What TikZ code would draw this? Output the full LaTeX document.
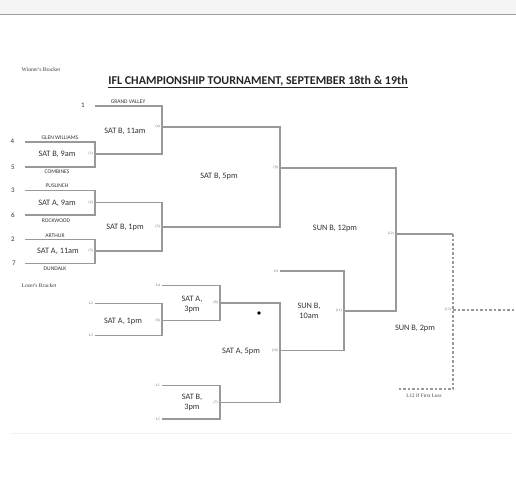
\documentclass[tikz,border=0pt]{standalone}
\usepackage{fontspec}
\setmainfont{Carlito}
\newfontfamily\tnr{Liberation Serif}
\usepackage{tikz}
\usetikzlibrary{calc}

\begin{document}
\begin{tikzpicture}[
            x=1pt, y=-1pt,
            bline/.style={draw=black!40, line width=1.1pt},
            dline/.style={draw=black!40, line width=1.1pt, dashed, dash pattern=on 2.5pt off 2pt},
            seed/.style={text=black!80, font=\fontsize{7}{8}\selectfont, inner sep=0pt},
            team/.style={text=black!80, font=\fontsize{5.6}{6}\selectfont, inner sep=0pt},
            slot/.style={text=black!80, font=\fontsize{8.3}{10}\selectfont, inner sep=0pt, align=center},
            gno/.style={text=black!60, font=\tnr\fontsize{3.6}{4}\selectfont, inner sep=0pt, anchor=east},
            note/.style={text=black!75, font=\tnr\fontsize{5.6}{6}\selectfont, inner sep=0pt},
        ]
            \useasboundingbox (0,0) rectangle (516,492);
            % page strip and frame
            \fill[blue!2!black!4] (0,0) rectangle (516,14.5);
            \draw[black!38, line width=1.4pt] (0,14.5) -- (516,14.5);
            \draw[black!5, line width=0.6pt] (10,433) -- (512,433);

            \node[note] (wb) at (41,70) {Winner's Bracket};
            \node[text=black!85, font=\bfseries\fontsize{12}{14}\selectfont, inner sep=0pt] (title) at (258,82) {\underline{IFL CHAMPIONSHIP TOURNAMENT, SEPTEMBER 18th \& 19th}};
            \node[note] (lb) at (39,285.5) {Loser's Bracket};

            % winner's bracket corners
            \coordinate (s1) at (95,106);
            \coordinate (s4) at (25,142);
            \coordinate (s5) at (25,167);
            \coordinate (s3) at (25,190.5);
            \coordinate (s6) at (25,215);
            \coordinate (s2) at (25,239.5);
            \coordinate (s7) at (25,263.5);
            \coordinate (g1a) at (95,142);
            \coordinate (g1b) at (95,167);
            \coordinate (g1) at (95,154);
            \coordinate (g2a) at (95,190.5);
            \coordinate (g2b) at (95,215);
            \coordinate (g2) at (95,202.5);
            \coordinate (g3a) at (95,239.5);
            \coordinate (g3b) at (95,263.5);
            \coordinate (g3) at (95,251);
            \coordinate (g4a) at (162,106);
            \coordinate (g4) at (162,127);
            \coordinate (g5) at (162,227);
            \coordinate (g9a) at (280,127);
            \coordinate (g9b) at (280,227);
            \coordinate (g9) at (280,168);
            \coordinate (g12a) at (396,168);
            \coordinate (g12) at (396,234);
            \coordinate (g13a) at (453,234);
            \coordinate (g13) at (453,310);
            \coordinate (g13b) at (453,389);
            \coordinate (l12) at (398,389);
            \coordinate (fin) at (516,310);

            % loser's bracket corners
            \coordinate (l2) at (95,303.5);
            \coordinate (l3) at (95,335.5);
            \coordinate (l4) at (162,285.5);
            \coordinate (l1) at (162,385.5);
            \coordinate (l5) at (162,419);
            \coordinate (l9) at (280,271);
            \coordinate (g6a) at (162,303.5);
            \coordinate (g6) at (162,320.5);
            \coordinate (g6b) at (162,335.5);
            \coordinate (g8a) at (220,285.5);
            \coordinate (g8) at (220,303);
            \coordinate (g7a) at (220,385.5);
            \coordinate (g7) at (220,402.5);
            \coordinate (g7b) at (220,419);
            \coordinate (g10) at (280,350.5);
            \coordinate (g11a) at (344,271);
            \coordinate (g11) at (344,311);

            \draw[bline] (s4) -- (g1a) -- (g1b) -- (s5);
            \draw[bline] (s3) -- (g2a) -- (g2b) -- (s6);
            \draw[bline] (s2) -- (g3a) -- (g3b) -- (s7);
            \draw[bline] (s1) -- (g4a) -- (g1 -| g4a) -- (g1);
            \draw[bline] (g2) -- (g2 -| g4a) -- (g3 -| g4a) -- (g3);
            \draw[bline] (g4) -- (g9a) -- (g9b) -- (g5);
            \draw[bline] (g9) -- (g12a) -- (g11 -| g12a) -- (g11);
            \draw[bline] (g12) -- (g13a);
            \draw[dline] (g13a) -- (g13b) -- (l12);
            \draw[dline] (g13) -- (fin);

            \draw[bline] (l2) -- (g6a) -- (g6b) -- (l3);
            \draw[bline] (l4) -- (g8a) -- (g6 -| g8a) -- (g6);
            \draw[bline] (l1) -- (g7a) -- (g7b) -- (l5);
            \draw[bline] (g8) -- (g8 -| g10) -- (g7 -| g10) -- (g7);
            \draw[bline] (l9) -- (g11a) -- (g10 -| g11a) -- (g10);

            \fill[black] (259,313) circle (1.8);

            % seeds and teams
            \node[seed] (n1) at (83,105.5) {1};
            \node[seed] (n4) at (12.5,141.5) {4};
            \node[seed] (n5) at (13,167) {5};
            \node[seed] (n3) at (13,190.5) {3};
            \node[seed] (n6) at (13,215.5) {6};
            \node[seed] (n2) at (13,239) {2};
            \node[seed] (n7) at (14,263.5) {7};
            \node[team] (gv) at (128,101.5) {GRAND VALLEY};
            \node[team] (gw) at (60,137.5) {GLEN WILLIAMS};
            \node[team] (co) at (57,172) {COMBINES};
            \node[team] (pu) at (57,185.5) {PUSLINCH};
            \node[team] (ro) at (56,220.5) {ROCKWOOD};
            \node[team] (ar) at (55,235.5) {ARTHUR};
            \node[team] (du) at (55,268.5) {DUNDALK};

            % game slots
            \node[slot] (t1) at (57,154) {SAT B, 9am};
            \node[slot] (t2) at (57,203) {SAT A, 9am};
            \node[slot] (t3) at (58,251) {SAT A, 11am};
            \node[slot] (t4) at (125,131) {SAT B, 11am};
            \node[slot] (t5) at (125,227) {SAT B, 1pm};
            \node[slot] (t9) at (219,176) {SAT B, 5pm};
            \node[slot] (t12) at (335,228) {SUN B, 12pm};
            \node[slot] (t13) at (415,328) {SUN B, 2pm};
            \node[slot] (t6) at (123,321.5) {SAT A, 1pm};
            \node[slot] (t8) at (192,304) {SAT A,\\3pm};
            \node[slot] (t7) at (192,402) {SAT B,\\3pm};
            \node[slot] (t10) at (241,351) {SAT A, 5pm};
            \node[slot] (t11) at (309,310.5) {SUN B,\\10am};
            \node[note, font=\tnr\fontsize{5.2}{6}\selectfont] (if) at (424,395.5) {L12 If First Loss};

            % game numbers and loser feeds
            \node[gno] (c1) at ($(g1)+(-2,0)$) {(1)};
            \node[gno] (c2) at ($(g2)+(-2,0)$) {(2)};
            \node[gno] (c3) at ($(g3)+(-2,0)$) {(3)};
            \node[gno] (c4) at ($(g4)+(-2,0)$) {(4)};
            \node[gno] (c5) at ($(g5)+(-2,0)$) {(5)};
            \node[gno] (c6) at ($(g6)+(-2,0)$) {(6)};
            \node[gno] (c7) at ($(g7)+(-2,0)$) {(7)};
            \node[gno] (c8) at ($(g8)+(-2,0)$) {(8)};
            \node[gno] (c9) at ($(g9)+(-2,0)$) {(9)};
            \node[gno] (c10) at ($(g10)+(-2,0)$) {(10)};
            \node[gno] (c11) at ($(g11)+(-2,0)$) {(11)};
            \node[gno] (c12) at ($(g12)+(-2,0)$) {(12)};
            \node[gno] (c13) at ($(g13)+(-2,0)$) {(13)};
            \node[gno] (x2) at ($(l2)+(-2,0)$) {L2};
            \node[gno] (x3) at ($(l3)+(-2,0)$) {L3};
            \node[gno] (x4) at ($(l4)+(-2,0)$) {L4};
            \node[gno] (x1) at ($(l1)+(-2,0)$) {L1};
            \node[gno] (x5) at ($(l5)+(-2,0)$) {L5};
            \node[gno] (x9) at ($(l9)+(-2,0)$) {L9};
        \end{tikzpicture}
\end{document}
